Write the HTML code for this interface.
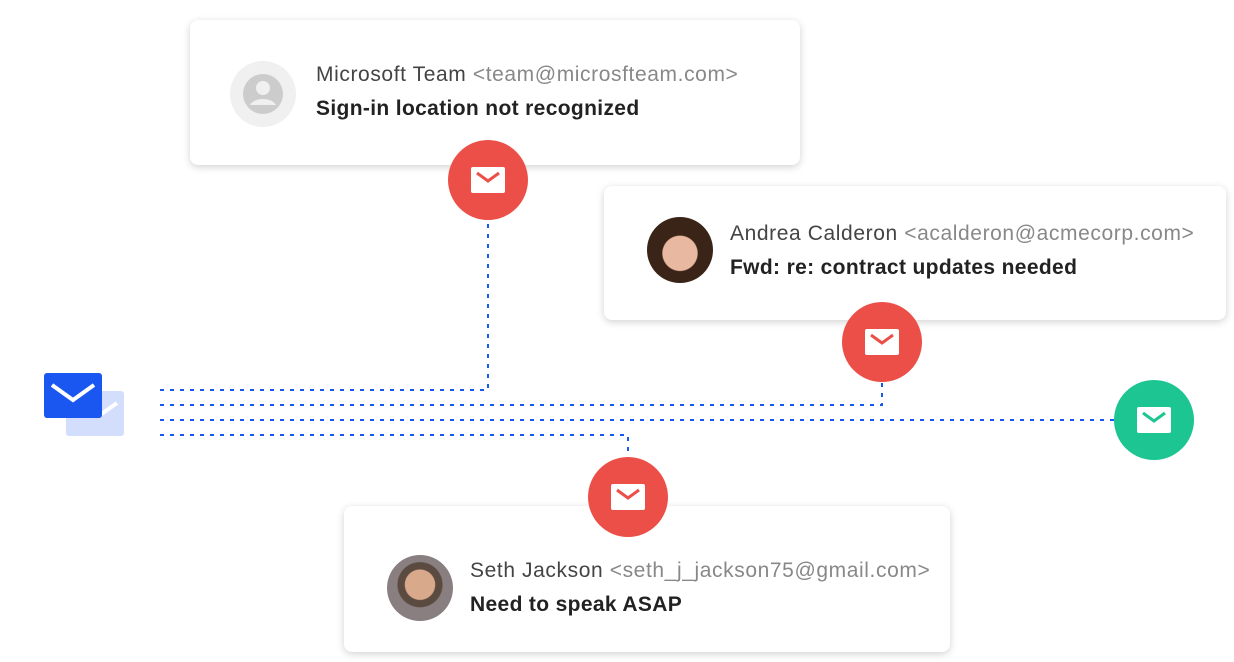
<!DOCTYPE html>
<html><head><style>
body{margin:0;width:1234px;height:662px;background:#fff;position:relative;overflow:hidden;font-family:"Liberation Sans",sans-serif}
.card{position:absolute;background:#fff;border-radius:8px;box-shadow:0 2px 8px rgba(0,0,0,.18)}
.av{position:absolute;width:66px;height:66px;border-radius:50%}
.t{position:absolute;white-space:nowrap}
.n{font-size:21px;color:#444;letter-spacing:0.6px}.n span{color:#888}
.s{font-size:21px;font-weight:bold;color:#222;letter-spacing:0.35px}
.c{position:absolute;width:80px;height:80px;border-radius:50%;background:#ec4f48}
.c svg{position:absolute;left:22px;top:22px}
</style></head><body>
<svg width="1234" height="662" style="position:absolute;left:0;top:0">
<g stroke="#1a56f0" stroke-width="2" stroke-dasharray="4 6" fill="none">
<path d="M160 390H488V220"/><path d="M160 405H882V380"/><path d="M160 420H1115"/><path d="M160 435H628V458"/>
</g>
<rect x="66" y="391" width="58" height="45" rx="3" fill="#d3defc"/>
<path d="M100 415l17-12" stroke="#fff" stroke-width="4"/>
<rect x="44" y="373" width="58" height="45" rx="3" fill="#1a56f0"/>
<path d="M52 385l21 15 21-15" stroke="#fff" stroke-width="4" fill="none"/>
</svg>
<div class="card" style="left:190px;top:20px;width:610px;height:145px"></div>
<div class="av" style="left:230px;top:61px;background:#f0f0f0"><svg width="66" height="66"><circle cx="33" cy="33" r="20" fill="#ccc"/><circle cx="33" cy="27" r="7" fill="#f0f0f0"/><path d="M20 44c4-8 22-8 26 0" fill="#f0f0f0"/></svg></div>
<div class="t n" style="left:316px;top:63px">Microsoft Team <span>&lt;team@microsfteam.com&gt;</span></div>
<div class="t s" style="left:316px;top:97px">Sign-in location not recognized</div>
<div class="card" style="left:604px;top:186px;width:622px;height:134px"></div>
<div class="av" style="left:647px;top:217px;background:radial-gradient(circle at 50% 55%,#e8b9a0 0 35%,#3a2418 37%)"></div>
<div class="t n" style="left:730px;top:222px">Andrea Calderon <span>&lt;acalderon@acmecorp.com&gt;</span></div>
<div class="t s" style="left:730px;top:256px">Fwd: re: contract updates needed</div>
<div class="card" style="left:344px;top:506px;width:606px;height:146px"></div>
<div class="av" style="left:387px;top:555px;background:radial-gradient(circle at 50% 45%,#d9a98c 0 30%,#5a4a40 32% 45%,#8a7f80 47%)"></div>
<div class="t n" style="left:470px;top:559px">Seth Jackson <span>&lt;seth_j_jackson75@gmail.com&gt;</span></div>
<div class="t s" style="left:470px;top:593px">Need to speak ASAP</div>
<div class="c" style="left:448px;top:140px"><svg width="36" height="36"><rect x="1" y="5" width="34" height="26" rx="2" fill="#fff"/><path d="M7 11l11 8 11-8" stroke="#ec4f48" stroke-width="3" fill="none"/></svg></div>
<div class="c" style="left:842px;top:302px"><svg width="36" height="36"><rect x="1" y="5" width="34" height="26" rx="2" fill="#fff"/><path d="M7 11l11 8 11-8" stroke="#ec4f48" stroke-width="3" fill="none"/></svg></div>
<div class="c" style="left:1114px;top:380px;background:#1dc592"><svg width="36" height="36"><rect x="1" y="5" width="34" height="26" rx="2" fill="#fff"/><path d="M7 11l11 8 11-8" stroke="#1dc592" stroke-width="3" fill="none"/></svg></div>
<div class="c" style="left:588px;top:457px"><svg width="36" height="36"><rect x="1" y="5" width="34" height="26" rx="2" fill="#fff"/><path d="M7 11l11 8 11-8" stroke="#ec4f48" stroke-width="3" fill="none"/></svg></div>
</body></html>
